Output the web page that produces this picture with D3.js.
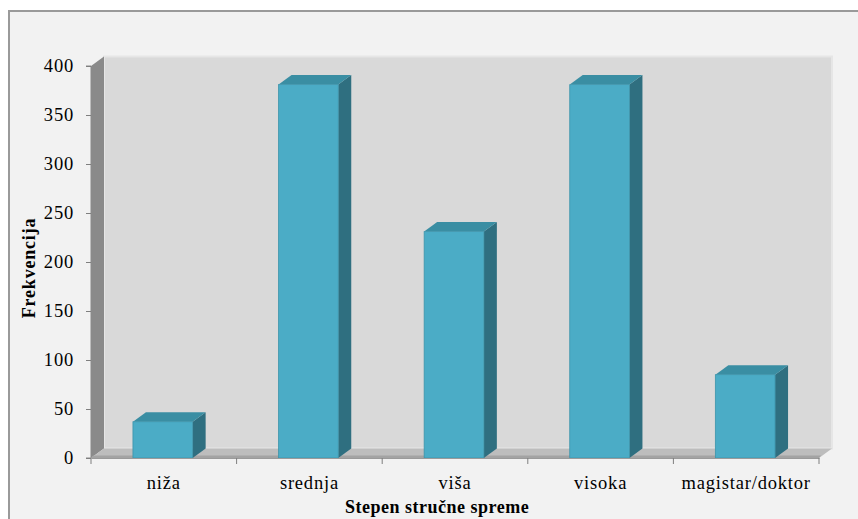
<!DOCTYPE html>
<html>
<head>
<meta charset="utf-8">
<script src="https://cdn.jsdelivr.net/npm/d3@7/dist/d3.min.js"></script>
<style>
  html, body { margin: 0; padding: 0; background: #ffffff; }
  svg { display: block; }
  text { font-family: "Liberation Serif", "Times New Roman", serif; fill: #000; }
</style>
</head>
<body>
<svg id="chart" width="858" height="519"></svg>
<script>
// Education level frequencies
const categories = ["niža", "srednja", "viša", "visoka", "magistar/doktor"];
const values = [37, 381, 231, 381, 85];
const yTicks = [0, 50, 100, 150, 200, 250, 300, 350, 400];
const yTitle = "Frekvencija";
const xTitle = "Stepen stručne spreme";

const svg = d3.select("#chart");
const W = 858, H = 519;

// 3D depth offset of the back plane
const DX = 13, DY = 9.5;

const x = d3.scaleBand().domain(categories).range([91, 819]).padding(0);
const y = d3.scaleLinear().domain([0, 400]).range([458, 66]);

// outer chart frame
svg.append("rect")
  .attr("x", 9).attr("y", 11)
  .attr("width", W + 20).attr("height", H + 20)
  .attr("fill", "#f2f2f2")
  .attr("stroke", "#9a9a9a").attr("stroke-width", 2);

const x0 = x.range()[0], x1 = x.range()[1];
const yTop = y(400), yBase = y(0);

// back wall
svg.append("rect")
  .attr("x", x0 + DX).attr("y", yTop - DY)
  .attr("width", x1 - x0).attr("height", yBase - yTop)
  .attr("fill", "#d9d9d9")
  .attr("stroke", "#e6e6e6").attr("stroke-width", 2);

// side wall
svg.append("polygon")
  .attr("points", [[x0, yTop], [x0 + DX, yTop - DY], [x0 + DX, yBase - DY], [x0, yBase]].join(" "))
  .attr("fill", "#8a8a8a");

// floor
svg.append("polygon")
  .attr("points", [[x0, yBase], [x1, yBase], [x1 + DX, yBase - DY], [x0 + DX, yBase - DY]].join(" "))
  .attr("fill", "#bdbdbd");
svg.append("polygon")
  .attr("points", [[x0, yBase], [x1, yBase], [x1 + 2, yBase - 2.5], [x0 + 2, yBase - 2.5]].join(" "))
  .attr("fill", "#a3a3a3");

// bars
const barW = x.bandwidth() * 0.41;
const bars = svg.append("g").selectAll("g").data(categories).join("g");
bars.each(function (c, i) {
  const g = d3.select(this);
  const cx = x(c) + x.bandwidth() / 2 - 1;
  const bx = cx - barW / 2;
  const top = y(values[i]);
  // side face
  g.append("polygon")
    .attr("points", [[bx + barW, top], [bx + barW + DX, top - DY], [bx + barW + DX, yBase - DY], [bx + barW, yBase]].join(" "))
    .attr("fill", "#2f6f80");
  // top face
  g.append("polygon")
    .attr("points", [[bx, top], [bx + DX, top - DY], [bx + barW + DX, top - DY], [bx + barW, top]].join(" "))
    .attr("fill", "#3a8ea3");
  // front face
  g.append("rect")
    .attr("x", bx).attr("y", top)
    .attr("width", barW).attr("height", yBase - top)
    .attr("fill", "#4bacc6")
    .attr("stroke", "#3d94ab").attr("stroke-width", 0.8);
});

// y axis
const yAxis = d3.axisLeft(y).tickValues(yTicks).tickSize(5).tickPadding(12);
const gy = svg.append("g").attr("transform", `translate(${x0},0)`).call(yAxis);
gy.select(".domain").attr("stroke", "#8a8a8a").attr("d", `M-5,${yTop}H0V${yBase}H-5`);
gy.selectAll(".tick line").attr("stroke", "#7f7f7f");
gy.selectAll(".tick text")
  .attr("font-family", "Liberation Serif, Times New Roman, serif")
  .attr("font-size", 18.5).attr("letter-spacing", 0.8).attr("fill", "#000");

// x axis
const xAxis = d3.axisBottom(x).tickSize(0).tickPadding(18);
const gx = svg.append("g").attr("transform", `translate(0,${yBase})`).call(xAxis);
gx.select(".domain").attr("stroke", "#9a9a9a");
gx.selectAll(".tick text")
  .attr("font-family", "Liberation Serif, Times New Roman, serif")
  .attr("font-size", 18.5).attr("letter-spacing", 0.8).attr("fill", "#000");
// category separator ticks
const edges = categories.map(c => x(c)).concat([x1]);
svg.append("g").selectAll("line").data(edges).join("line")
  .attr("x1", d => d).attr("x2", d => d)
  .attr("y1", yBase).attr("y2", yBase + 6)
  .attr("stroke", "#7f7f7f");

// axis titles
svg.append("text")
  .attr("transform", `translate(35,${268}) rotate(-90)`)
  .attr("text-anchor", "middle")
  .attr("font-weight", "bold").attr("font-size", 18).attr("letter-spacing", 0.8)
  .text(yTitle);

svg.append("text")
  .attr("x", 345).attr("y", 513)
  .attr("text-anchor", "start")
  .attr("font-weight", "bold").attr("font-size", 18).attr("letter-spacing", 0.5)
  .text(xTitle);
</script>
</body>
</html>
